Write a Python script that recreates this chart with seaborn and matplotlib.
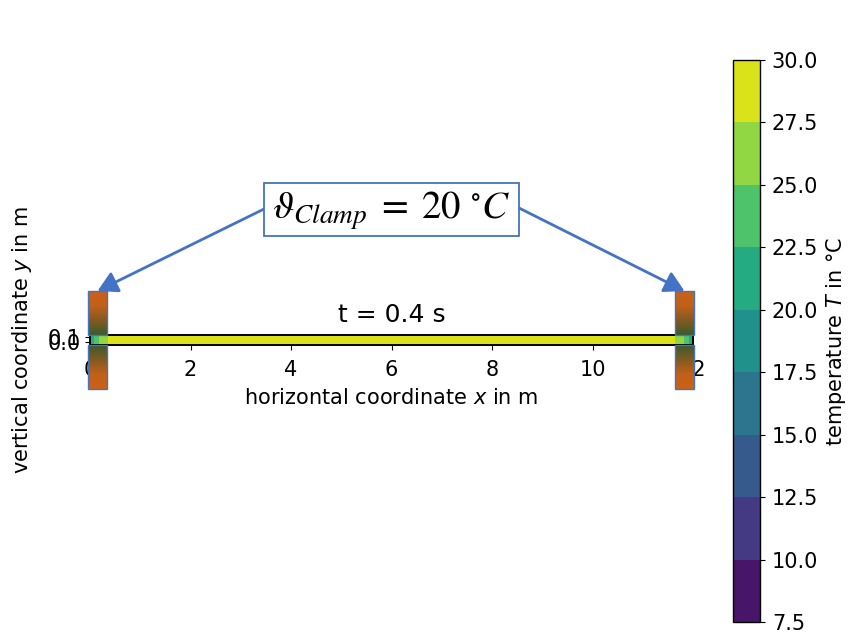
import numpy as np
import matplotlib
matplotlib.use("Agg")
import matplotlib.pyplot as plt
import seaborn as sns
from matplotlib.patches import Rectangle
from matplotlib.colors import LinearSegmentedColormap

# temperature along the beam at t = 0.4 s (clamps at both ends held at 20 degC)
x_pos = [0.0, 0.1, 0.2, 0.35, 0.5, 0.8, 1.5, 3.0, 6.0, 9.0, 10.5, 11.2, 11.5, 11.65, 11.8, 11.9, 12.0]
temp = [21.0, 23.0, 25.5, 27.5, 28.6, 29.4, 29.8, 29.9, 29.9, 29.9, 29.8, 29.4, 28.6, 27.5, 25.5, 23.0, 21.0]
y_pos = [-0.05, 0.15]
levels = [7.5, 10.0, 12.5, 15.0, 17.5, 20.0, 22.5, 25.0, 27.5, 30.0]
x_ticks = [0, 2, 4, 6, 8, 10, 12]
y_ticks = [0.0, 0.1]

# clamps (drawn like the sketch)
clamp_x0 = [-0.04, 11.64]
clamp_width = 0.38
clamp_length = 0.875
clamp_text = r"$\vartheta_{Clamp}\;=\;20\ ^{\circ}C$"

sns.set_style("ticks")
plt.rcParams["font.family"] = ["DejaVu Sans"]
plt.rcParams["font.size"] = 15
plt.rcParams["text.color"] = "black"
plt.rcParams["axes.labelcolor"] = "black"
plt.rcParams["axes.edgecolor"] = "black"
plt.rcParams["xtick.color"] = "black"
plt.rcParams["ytick.color"] = "black"
plt.rcParams["mathtext.fontset"] = "dejavusans"

fig = plt.figure(figsize=(8.5, 6.34), dpi=100)
ax = fig.add_axes([90 / 850, (634 - 345) / 634, 603 / 850, 10.05 / 634])
cax = fig.add_axes([733 / 850, (634 - 622) / 634, 27 / 850, 562 / 634])

X, Y = np.meshgrid(x_pos, y_pos)
Z = np.tile(temp, (len(y_pos), 1))
cmap = sns.color_palette("viridis", as_cmap=True)
cs = ax.contourf(X, Y, Z, levels=levels, cmap=cmap)

ax.set_xlim(0, 12)
ax.set_ylim(y_pos[0], y_pos[1])
ax.set_aspect("auto")
ax.set_xticks(x_ticks)
ax.set_yticks(y_ticks)
ax.tick_params(axis="x", pad=7)
ax.set_title("t = 0.4 s", pad=9)
ax.set_xlabel("horizontal coordinate $x$ in m", labelpad=6)
ax.set_ylabel("vertical coordinate $y$ in m", va="center")
ax.yaxis.set_label_coords(22 / 850, 1 - 340 / 634, transform=fig.transFigure)
for s in ax.spines.values():
    s.set_linewidth(1.4)

cbar = fig.colorbar(cs, cax=cax, ticks=levels)
cbar.ax.set_yticklabels([f"{v:.1f}" for v in levels])
cbar.ax.tick_params(pad=5)
cbar.set_label("temperature $T$ in °C", labelpad=4)
cbar.outline.set_linewidth(1.0)

# clamps: orange-to-dark-green gradient pieces above and below the beam
clamp_cmap = LinearSegmentedColormap.from_list(
    "clamp", [(0.0, "#cc6116"), (0.35, "#c0601a"), (0.7, "#7a5a22"), (1.0, "#3d5a2c")])
grad = np.linspace(0, 1, 200).reshape(-1, 1)
for x0 in clamp_x0:
    top0, top1 = y_pos[1], y_pos[1] + clamp_length
    bot0, bot1 = y_pos[0] - clamp_length, y_pos[0]
    # upper piece: green at the beam, orange at the top
    ax.imshow(grad[::-1], extent=(x0, x0 + clamp_width, top0, top1), origin="lower",
              cmap=clamp_cmap, aspect="auto", interpolation="bilinear",
              clip_on=False, zorder=5)
    ax.imshow(grad, extent=(x0, x0 + clamp_width, bot0, bot1), origin="lower",
              cmap=clamp_cmap, aspect="auto", interpolation="bilinear",
              clip_on=False, zorder=5)
    for y0 in (top0, bot0):
        ax.add_patch(Rectangle((x0, y0), clamp_width, clamp_length, fill=False,
                               ec="#4472c4", lw=1.0, clip_on=False, zorder=6))
ax.set_xlim(0, 12)
ax.set_ylim(y_pos[0], y_pos[1])

# annotation box with arrows to the clamps
fig.add_artist(Rectangle((264 / 850, 1 - 236 / 634), 255 / 850, 53 / 634,
                         transform=fig.transFigure, fc="white", ec="#4472c4", lw=1.3))
fig.text(391.5 / 850, 1 - 211 / 634, clamp_text, ha="center", va="center",
         fontsize=28, math_fontfamily="stix")
starts = [(264 / 850, 1 - 209 / 634), (519 / 850, 1 - 208 / 634)]
for x0, st in zip(clamp_x0, starts):
    ax.annotate("", xy=(x0 + clamp_width / 2, y_pos[1] + clamp_length), xycoords="data",
                xytext=st, textcoords="figure fraction", annotation_clip=False,
                arrowprops=dict(arrowstyle="-|>,head_length=0.8,head_width=0.45",
                                color="#4472c4", lw=2.0, shrinkA=0, shrinkB=0),
                zorder=7)

fig.savefig("out.png", dpi=100)
